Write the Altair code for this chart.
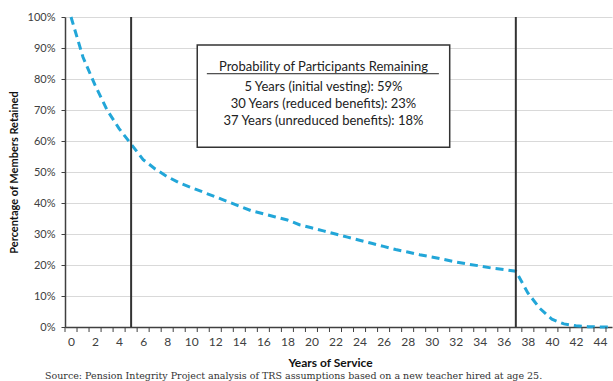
import altair as alt
import pandas as pd

years = list(range(0, 46))
retained = [100, 87, 78, 70, 64, 59, 54, 51, 48.5, 46.5, 45, 43.5, 42, 40.5, 39, 37.5,
            36.5, 35.5, 34.5, 33, 32, 31, 30, 29, 28, 27, 26, 25, 24.2, 23.3, 22.6,
            21.8, 21, 20.3, 19.7, 19, 18.5, 18, 11, 6, 2.5, 1, 0.4, 0.1, 0, 0]
milestones = [5, 37]
box_lines = ["Probability of Participants Remaining",
             "5 Years (initial vesting): 59%",
             "30 Years (reduced benefits): 23%",
             "37 Years (unreduced benefits): 18%"]
box_line_y = [0.839, 0.774, 0.719, 0.664]
x_label_values = list(range(0, 46, 2))
y_label_values = [i / 10 for i in range(0, 11)]
source = "Source: Pension Integrity Project analysis of TRS assumptions based on a new teacher hired at age 25."

df = pd.DataFrame({"year": years, "pct": [v / 100 for v in retained]})
FONT = "Lato"

xscale = alt.Scale(domain=[-0.5, 45], nice=False, zero=False)
yscale = alt.Scale(domain=[0, 1], nice=False)

xaxis = alt.Axis(values=x_label_values, ticks=False, grid=False, labelOverlap=False,
                 title="Years of Service", titleFont=FONT, titleFontSize=12,
                 titleFontWeight="bold", titleColor="#111",
                 titleX=265, titleY=35, titleBaseline="middle",
                 labelFont=FONT, labelFontSize=12, labelColor="#404040",
                 labelPadding=9, domainColor="#404040", domainWidth=1.5)
yaxis = alt.Axis(values=y_label_values, format=".0%", grid=True, labelOverlap=False,
                 gridColor="#d9d9d9", gridWidth=1, tickColor="#404040",
                 tickSize=4, labelFont=FONT, labelFontSize=11,
                 labelColor="#404040", labelPadding=6,
                 title="Percentage of Members Retained", titleFont=FONT,
                 titleFontSize=11, titleFontWeight="bold", titleColor="#111",
                 titleX=-51, titleY=155, titleAlign="center",
                 titleBaseline="middle", domainColor="#404040", domainWidth=1.5)

line = alt.Chart(df).mark_line(color="#22a6d8", strokeWidth=3, strokeDash=[8, 5]).encode(
    x=alt.X("year:Q", scale=xscale, axis=xaxis),
    y=alt.Y("pct:Q", scale=yscale, axis=yaxis),
)

tick_df = pd.DataFrame({"t": [k + 0.5 for k in range(-1, 45)]})
ticks = alt.Chart(tick_df).mark_rule(color="#404040", strokeWidth=1).encode(
    x=alt.X("t:Q", scale=xscale, axis=xaxis), y=alt.value(310), y2=alt.value(315))

ms_df = pd.DataFrame({"x": milestones, "lo": [0, 0], "hi": [1, 1]})
vlines = alt.Chart(ms_df).mark_rule(color="#333333", strokeWidth=2).encode(
    x=alt.X("x:Q", scale=xscale, axis=xaxis),
    y=alt.Y("lo:Q", scale=yscale, axis=yaxis), y2="hi:Q")

box_df = pd.DataFrame({"x1": [10.5], "x2": [31.5], "y1": [0.58], "y2": [0.91]})
box = alt.Chart(box_df).mark_rect(fill="white", stroke="#333333", strokeWidth=1.5).encode(
    x=alt.X("x1:Q", scale=xscale, axis=xaxis), x2="x2:Q",
    y=alt.Y("y1:Q", scale=yscale, axis=yaxis), y2="y2:Q")

txt_df = pd.DataFrame({"t": box_lines, "y": box_line_y, "x": [21] * 4})
texts = alt.Chart(txt_df).mark_text(font=FONT, fontSize=13, color="#222",
                                    baseline="middle", align="center").encode(
    x=alt.X("x:Q", scale=xscale, axis=xaxis), y=alt.Y("y:Q", scale=yscale, axis=yaxis),
    text="t:N")

ul_df = pd.DataFrame({"x1": [11.3], "x2": [30.6], "y": [0.817]})
underline = alt.Chart(ul_df).mark_rule(color="#222", strokeWidth=1).encode(
    x=alt.X("x1:Q", scale=xscale, axis=xaxis), x2="x2:Q",
    y=alt.Y("y:Q", scale=yscale, axis=yaxis))

src_df = pd.DataFrame({"t": [source]})
src = alt.Chart(src_df).mark_text(font="DejaVu Serif", fontSize=9.5, color="#333",
                                  align="left", baseline="middle").encode(
    x=alt.value(-20), y=alt.value(359), text="t:N")

chart = alt.layer(line, vlines, box, texts, underline, ticks, src).properties(
    width=547, height=310,
    autosize=alt.AutoSizeParams(type="none"),
    padding={"left": 65, "top": 17, "right": 1, "bottom": 54},
    background="white",
).configure_view(stroke=None)

chart.save("out.html", embed_options={"renderer": "svg", "actions": False})
